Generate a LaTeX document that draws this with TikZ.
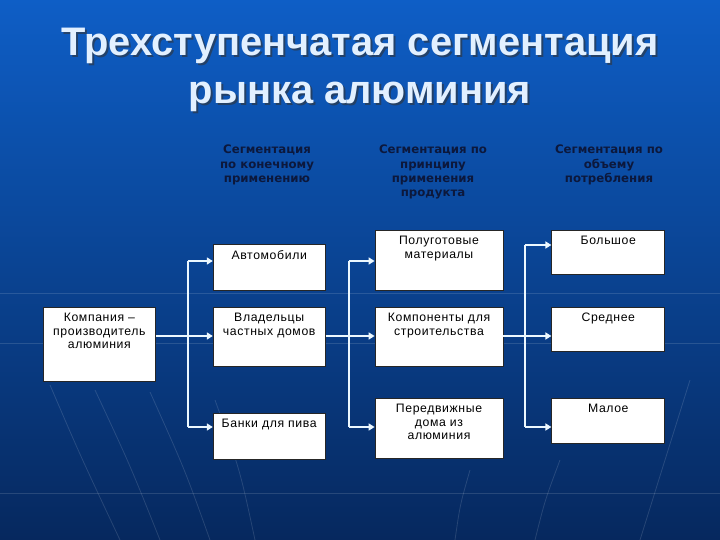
\documentclass[tikz,border=0pt]{standalone}
\usepackage{fontspec}
\setmainfont{Liberation Sans}
\newfontfamily\headfont{DejaVu Sans}
\newfontfamily\boxfont[LetterSpace=5]{Liberation Sans}
\usepackage{tikz}
\usetikzlibrary{positioning,arrows.meta}

\definecolor{bgtop}{RGB}{14,94,198}
\definecolor{bgbot}{RGB}{6,40,94}
\definecolor{titlecol}{RGB}{226,240,255}
\definecolor{headcol}{RGB}{12,24,60}
\definecolor{linkcol}{RGB}{236,248,255}

\begin{document}
\begin{tikzpicture}[
  x=1bp, y=-1bp,
  box/.style={draw=black!85, fill=white, line width=0.8bp, inner sep=0pt, anchor=north west},
  txt/.style={font=\boxfont\fontsize{12.3}{13.7}\selectfont, align=center, anchor=north, inner sep=0pt, yshift=-6bp},
  head/.style={font=\headfont\bfseries\fontsize{11.8}{14.2}\selectfont, text=headcol, align=center, anchor=north, inner sep=0pt},
  title/.style={font=\bfseries\fontsize{40}{49}\selectfont, align=center, anchor=north, inner sep=0pt},
  bus/.style={draw=linkcol, line width=2.4bp},
  link/.style={bus, -{Triangle[length=6bp,width=7bp]}},
  streak/.style={draw=white, opacity=0.13, line width=0.8bp}
]

% ======================================================
% =============== BACKGROUND ===========================
% ======================================================
\useasboundingbox (0,0) rectangle (720,540);
\shade[top color=bgtop, bottom color=bgbot] (0,0) rectangle (720,540);
\draw[streak] (0,293) -- (720,293);
\draw[streak] (0,343) -- (720,343);
\draw[streak] (0,493) -- (720,493);
\draw[streak] (50,385) .. controls (80,455) .. (120,540);
\draw[streak] (95,390) .. controls (130,465) .. (160,540);
\draw[streak] (150,392) .. controls (185,470) .. (210,540);
\draw[streak] (215,400) .. controls (240,470) .. (255,540);
\draw[streak] (470,470) .. controls (460,505) .. (455,540);
\draw[streak] (560,460) .. controls (545,500) .. (535,540);
\draw[streak] (690,380) .. controls (665,460) .. (640,540);

% ======================================================
% =============== TITLE ================================
% ======================================================
\node[title, text=black!80, opacity=0.6] (T0s) at (362,29.5) {Трехступенчатая сегментация\\рынка алюминия};
\node[title, text=titlecol] (T0) at (360,27.5) {Трехступенчатая сегментация\\рынка алюминия};

% ======================================================
% =============== HEADERS ==============================
% ======================================================
\node[head] (hU) at (267,145) {Сегментация\\по конечному\\применению};
\node[head] (hP) at (433,145) {Сегментация по\\принципу\\применения\\продукта};
\node[head] (hV) at (609,145) {Сегментация по\\объему\\потребления};

% ======================================================
% =============== BOXES ================================
% ======================================================
\node[box, minimum width=112bp, minimum height=74bp,
  label={[txt]90:Компания –\\производитель\\алюминия}] (C0) at (43,307) {};

% end use
\node[box, minimum width=112bp, minimum height=59bp, right=57bp of C0.north east, anchor=north west,
  label={[txt]90:Владельцы\\частных домов}] (U2) {};
\node[box, minimum width=112bp, minimum height=46bp, above=16bp of U2,
  label={[txt]90:Автомобили}] (U1) {};
\node[box, minimum width=112bp, minimum height=46bp, below=46bp of U2,
  label={[txt]90:Банки для пива}] (U3) {};

% product
\node[box, minimum width=128bp, minimum height=59bp, right=49bp of U2.north east, anchor=north west,
  label={[txt]90:Компоненты для\\строительства}] (P2) {};
\node[box, minimum width=128bp, minimum height=60bp, above=16bp of P2,
  label={[txt]90:Полуготовые\\материалы}] (P1) {};
\node[box, minimum width=128bp, minimum height=60bp, below=31bp of P2,
  label={[txt]90:Передвижные\\дома из\\алюминия}] (P3) {};

% volume
\node[box, minimum width=113bp, minimum height=44bp, right=48bp of P2.north east, anchor=north west,
  label={[txt]90:Среднее}] (V2) {};
\node[box, minimum width=113bp, minimum height=44bp, above=32bp of V2,
  label={[txt]90:Большое}] (V1) {};
\node[box, minimum width=113bp, minimum height=45bp, below=46bp of V2,
  label={[txt]90:Малое}] (V3) {};

% ======================================================
% =============== CONNECTORS ===========================
% ======================================================
\coordinate (r0) at (0,245);
\coordinate (r1) at (0,261);
\coordinate (r2) at (0,336);
\coordinate (r3) at (0,427);
\coordinate (b1) at (188,0);
\coordinate (b2) at (349,0);
\coordinate (b3) at (525,0);

\draw[bus] (b1 |- r1) -- (b1 |- r3);
\draw[link] (C0.east |- r2) -- (U2.west |- r2);
\draw[link] (b1 |- r1) -- (U1.west |- r1);
\draw[link] (b1 |- r3) -- (U3.west |- r3);

\draw[bus] (b2 |- r1) -- (b2 |- r3);
\draw[link] (U2.east |- r2) -- (P2.west |- r2);
\draw[link] (b2 |- r1) -- (P1.west |- r1);
\draw[link] (b2 |- r3) -- (P3.west |- r3);

\draw[bus] (b3 |- r0) -- (b3 |- r3);
\draw[link] (P2.east |- r2) -- (V2.west |- r2);
\draw[link] (b3 |- r0) -- (V1.west |- r0);
\draw[link] (b3 |- r3) -- (V3.west |- r3);

\end{tikzpicture}
\end{document}
